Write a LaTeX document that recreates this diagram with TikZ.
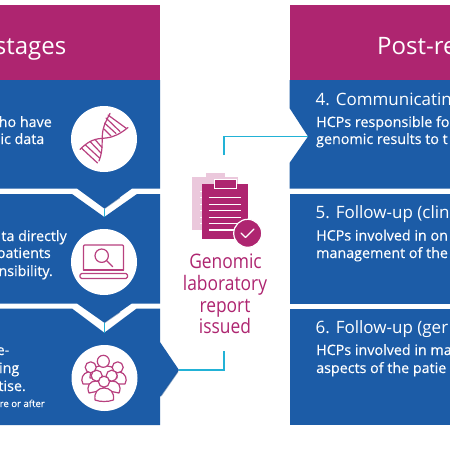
\documentclass[tikz,border=0pt]{standalone}
\usepackage{fontspec}
\setmainfont{Open Sans}
\newfontfamily\bodyfont[FakeBold=0.25]{Open Sans}
\newfontfamily\reportfont[FakeStretch=0.87]{Open Sans}
\definecolor{panelblue}{HTML}{1C5CA7}
\definecolor{shadeblue}{HTML}{174E8F}
\definecolor{headmag}{HTML}{AE2570}
\definecolor{lightmag}{HTML}{EBC8DC}
\definecolor{iconmag}{HTML}{B8407F}
\definecolor{linkcyan}{HTML}{22B2D6}
\tikzset{
  head/.style={fill=headmag},
  panel/.style={fill=panelblue},
  shade/.style={draw=shadeblue,line width=1.2pt,line join=miter},
  disc/.style={circle,fill=white,minimum size=66pt,inner sep=0pt},
  link/.style={draw=linkcyan,line width=1.3pt},
  ico/.style={draw=iconmag,line width=1.2pt,line join=round,line cap=round},
  icofill/.style={ico,fill=white},
  title/.style={text=white,font=\fontsize{24}{24}\selectfont,inner sep=0pt},
  subhead/.style={text=white,font=\fontsize{17}{17}\selectfont,inner sep=0pt},
  body/.style={text=white,font=\bodyfont\fontsize{14.3}{14.3}\selectfont,inner sep=0pt},
  note/.style={text=white,font=\bodyfont\fontsize{9.6}{9.6}\selectfont,inner sep=0pt},
  reporttext/.style={text=headmag,font=\reportfont\fontsize{20}{22}\selectfont,inner sep=0pt},
}
\begin{document}
\begin{tikzpicture}[x=1pt,y=-1pt]
\useasboundingbox (0,0) rectangle (450,450);
\clip (0,0) rectangle (450,450);
\fill[white] (0,0) rectangle (450,450);
% left column
\fill[head] (0,4.5) rectangle (160,80);
\fill[panel] (0,80) -- (160,80) -- (160,188.5) -- (132,188.5) -- (104.3,208.5) -- (77,188.5) -- (0,188.5) -- cycle;
\fill[panel] (0,194) -- (72,194) -- (104.3,217) -- (137,194) -- (160,194) -- (160,303.5) -- (131.7,303.5) -- (104.3,322.7) -- (77,303.5) -- (0,303.5) -- cycle;
\fill[panel] (0,308.5) -- (72,308.5) -- (104.3,332.7) -- (136.7,308.5) -- (160,308.5) -- (160,342) -- (179,370) -- (160,397) -- (160,425) -- (0,425) -- cycle;
\draw[shade,opacity=.5] (120,197.5) -- (104.3,208.5) -- (114,201.5);
\draw[shade,opacity=.5] (120,312) -- (104.3,322.7);
\draw[shade,opacity=.5] (178,371.5) -- (161,396);
% right column
\fill[head] (289.5,4.5) rectangle (450,80);
\fill[panel] (289.5,80) -- (450,80) -- (450,188.5) -- (289.5,188.5) -- (289.5,163) -- (308,136.5) -- (289.5,108) -- cycle;
\fill[panel] (289.5,194) rectangle (450,303.5);
\fill[panel] (289.5,308.5) rectangle (450,424.5);
% named anchors
\coordinate (tipA) at (104.5,208.5);
\coordinate (notchA) at (104.5,217);
\coordinate (tipB) at (104.5,322.7);
\coordinate (notchB) at (104.5,332.7);
\coordinate (tipC) at (179,370);
\coordinate (stemLow) at (224,351);
\coordinate (stemHigh) at (224,155);
\coordinate (notchR) at (308,136.5);
% connectors
\draw[link] (tipA) -- (notchA);
\draw[link] (tipB) -- (notchB);
\draw[link] (tipC) -| (stemLow);
\draw[link] (stemHigh) |- (notchR);
% titles
\node[title,anchor=base east] (t1) at (66.5,54.5) {stages};
\node[title,anchor=base west] (t2) at (377,54.5) {Post-re};
% left texts
\node[body,anchor=base east] (l1) at (52,127) {ho have};
\node[body,anchor=base east] (l2) at (44.5,144) {ic data};
\node[body,anchor=base east] (l3) at (67,241) {ta directly};
\node[body,anchor=base east] (l4) at (51,258) {patients};
\node[body,anchor=base east] (l5) at (53,276) {nsibility.};
\node[body,anchor=base east] (l6) at (9.5,355) {e-};
\node[body,anchor=base east] (l7) at (19.5,373) {ing};
\node[body,anchor=base east] (l8) at (26,391) {tise.};
\node[note,anchor=base east] (l9) at (45,407) {re or after};
% right texts
\node[subhead,anchor=base west] (r1) at (315.5,105) {4. Communicatin};
\node[body,anchor=base west] (r2) at (316,127) {HCPs responsible fo};
\node[body,anchor=base west] (r3) at (316,144) {genomic results to t};
\node[subhead,anchor=base west] (r4) at (315.5,218) {5. Follow-up (clin};
\node[body,anchor=base west] (r5) at (316,240.5) {HCPs involved in on};
\node[body,anchor=base west] (r6) at (316,258) {management of the};
\node[subhead,anchor=base west] (r7) at (315.5,333) {6. Follow-up (ger};
\node[body,anchor=base west] (r8) at (316,355) {HCPs involved in ma};
\node[body,anchor=base west] (r9) at (316,373) {aspects of the patie};
% centre text
\node[reporttext,anchor=base] (g1) at (225.5,268) {Genomic};
\node[reporttext,anchor=base] (g2) at (225,290) {laboratory};
\node[reporttext,anchor=base] (g3) at (225,312) {report};
\node[reporttext,anchor=base] (g4) at (225,333) {issued};
% discs
\node[disc] (d1) at (104,139) {};
\node[disc] (d2) at (104,262) {};
\node[disc] (d3) at (104.5,378) {};
% DNA
\draw[ico] (80,149.5) .. controls (92,137) and (100,139) .. (106,138) .. controls (114,137) and (120,134) .. (128,127.5);
\draw[ico] (99,161) .. controls (104,148) and (101,140) .. (103,130) .. controls (104,125) and (107,119) .. (110,113.5);
\foreach \a/\b/\c/\d in {81.7/148.3/97.5/163,85.5/145/99.5/158,90/141.5/101/153,95/139.5/102/147.5,
  104/129/111/136,104.5/123/116/133.5,106/118/120/131.5,108/115/126.5/128.5}{
  \draw[ico] (\a,\b) -- (\c,\d);
}
% laptop
\draw[ico,rounded corners=1pt] (83.5,270) -- (83.5,245) -- (123.5,245) -- (123.5,270);
\draw[ico] (83.5,270) -- (123.5,270);
\draw[ico,rounded corners=1.5pt] (80,273.5) rectangle (127.5,278.5);
\draw[ico] (101.7,255.7) circle (6.7);
\draw[ico] (106.5,260.5) -- (112.7,266.7);
% people
\draw[icofill] (83,384) .. controls (80,379) and (83,373) .. (88,372) -- (94,372) .. controls (98,373) and (100,378) .. (98,384) -- cycle;
\draw[icofill] (109,384) .. controls (107,378) and (109,373) .. (114,372) -- (120,372) .. controls (125,373) and (128,379) .. (125,384) -- cycle;
\draw[icofill] (90,378) .. controls (90,370) and (94,366) .. (100,366) -- (107,366) .. controls (113,366) and (117,370) .. (117,378) -- cycle;
\draw[icofill] (103.3,361.3) circle (6);
\draw[icofill] (90.7,367.3) circle (5.5);
\draw[icofill] (117.7,367.3) circle (5.5);
\draw[icofill] (89,393) .. controls (86,386) and (90,381) .. (96,381) .. controls (100,381) and (103,384) .. (104,390) -- cycle;
\draw[icofill] (104,390) .. controls (105,384) and (108,381) .. (112,381) .. controls (118,381) and (122,386) .. (119,393) -- cycle;
\draw[icofill] (96.7,375.7) circle (5.5);
\draw[icofill] (111.7,375.7) circle (5.5);
\draw[icofill] (95,400) .. controls (94,392) and (98,388) .. (104,388) .. controls (110,388) and (114.5,392) .. (113.5,400) .. controls (108,402) and (100,402) .. (95,400) -- cycle;
\draw[icofill] (104,381.7) circle (5.5);
% clipboard
\fill[lightmag] (192,177) rectangle (238,230);
\fill[lightmag] (206,172.5) rectangle (225,180);
\foreach \y in {190.5,197,203.5,210,216.5,223}{\fill[white] (199.5,\y) rectangle (201.5,\y+1);}
\fill[headmag] (202,183.5) rectangle (248,239);
\fill[headmag,draw=white,line width=.8pt] (214,179) rectangle (236,188);
\foreach \y in {197.7,204.2,210.7,217.2,223.7,230}{\fill[white] (209,\y-.6) rectangle (241,\y+.6);}
\fill[headmag,draw=white,line width=1.2pt] (247.7,233.3) circle (14);
\draw[white,line width=1.2pt,line cap=round,line join=round] (241,233) -- (245.5,237.5) -- (254,229);
\end{tikzpicture}
\end{document}
